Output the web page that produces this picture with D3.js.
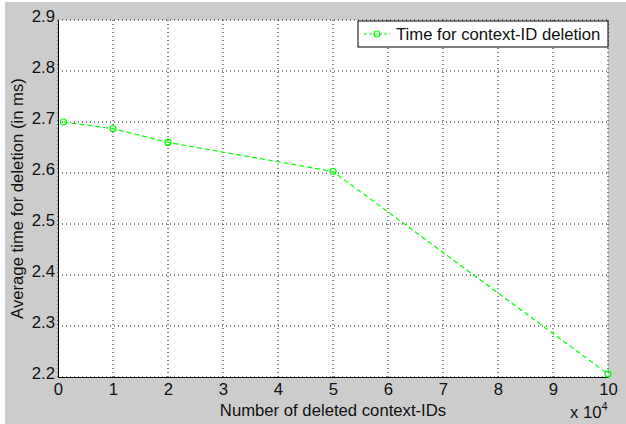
<!DOCTYPE html>
<html>
<head>
<meta charset="utf-8">
<script src="https://cdn.jsdelivr.net/npm/d3@7"></script>
<style>
  body { margin: 0; background: #fff; }
  svg { display: block; font-family: "Liberation Sans", Arial, sans-serif; }
</style>
</head>
<body>
<svg id="graph" width="626" height="424"></svg>
<script>
// data (x in units of 10^4 deleted IDs)
var deletedIds = [0.1, 1, 2, 5, 10];
var avgTime = [2.70, 2.687, 2.66, 2.603, 2.206];
var xTicks = [0, 1, 2, 3, 4, 5, 6, 7, 8, 9, 10];
var yTicks = [2.2, 2.3, 2.4, 2.5, 2.6, 2.7, 2.8, 2.9];
var seriesName = "Time for context-ID deletion";

var fs = 16.7;

var margin = { top: 20, right: 18, bottom: 47, left: 58 },
    width = 626 - margin.left - margin.right,
    height = 424 - margin.top - margin.bottom;

var svg = d3.select("#graph");

// figure background
svg.append("rect")
    .attr("x", 5).attr("y", 2)
    .attr("width", 621).attr("height", 422)
    .attr("fill", "#cccccc");

var graph = svg.append("g")
    .attr("transform", "translate(" + margin.left + "," + margin.top + ")");

var x = d3.scaleLinear().domain([0, 10]).range([0, width]),
    y = d3.scaleLinear().domain([2.2, 2.9]).range([height, 0]);

graph.append("rect")
    .attr("width", width).attr("height", height)
    .attr("fill", "#fff");

// grid lines
graph.selectAll(".vgrid")
    .data(xTicks)
    .enter().append("line")
    .attr("x1", function (d) { return x(d); })
    .attr("x2", function (d) { return x(d); })
    .attr("y1", 0).attr("y2", height)
    .attr("stroke", "#111")
    .attr("stroke-width", 1)
    .attr("stroke-dasharray", "1,3");

graph.selectAll(".hgrid")
    .data(yTicks)
    .enter().append("line")
    .attr("y1", function (d) { return y(d); })
    .attr("y2", function (d) { return y(d); })
    .attr("x1", 0).attr("x2", width)
    .attr("stroke", "#111")
    .attr("stroke-width", 1)
    .attr("stroke-dasharray", "1,3");

// axes
var xAxis = graph.append("g")
    .attr("transform", "translate(0," + height + ")")
    .call(d3.axisBottom(x).tickValues(xTicks).tickSize(0).tickPadding(5).tickFormat(d3.format("d")));
var yAxis = graph.append("g")
    .call(d3.axisLeft(y).tickValues(yTicks).tickSize(0).tickPadding(3).tickFormat(d3.format(".1f")));

[xAxis, yAxis].forEach(function (a) {
    a.select(".domain").attr("stroke", "#000");
    a.selectAll("text")
        .attr("font-family", "Liberation Sans, Arial, sans-serif")
        .attr("font-size", fs)
        .attr("fill", "#111");
});
xAxis.selectAll("text").attr("dy", "0.75em");
yAxis.selectAll("text").attr("dy", "0.1em");

// series line
var line = d3.line()
    .x(function (d) { return x(d[0]); })
    .y(function (d) { return y(d[1]); });

var points = deletedIds.map(function (d, i) { return [d, avgTime[i]]; });

graph.append("path")
    .datum(points)
    .attr("d", line)
    .attr("fill", "none")
    .attr("stroke", "#00ff00")
    .attr("stroke-width", 1.2)
    .attr("stroke-dasharray", "5,3");

graph.selectAll(".pt")
    .data(points)
    .enter().append("circle")
    .attr("cx", function (d) { return x(d[0]); })
    .attr("cy", function (d) { return y(d[1]); })
    .attr("r", 3)
    .attr("fill", "none")
    .attr("stroke", "#00ff00")
    .attr("stroke-width", 1.2);

// axis labels
graph.append("text")
    .attr("x", width / 2)
    .attr("y", height + 39)
    .attr("text-anchor", "middle")
    .attr("font-size", fs)
    .attr("fill", "#111")
    .text("Number of deleted context-IDs");

svg.append("text")
    .attr("transform", "translate(23," + (margin.top + height / 2) + ") rotate(-90)")
    .attr("text-anchor", "middle")
    .attr("font-size", fs)
    .attr("fill", "#111")
    .text("Average time for deletion (in ms)");

// exponent
var expo = svg.append("text")
    .attr("x", 570)
    .attr("y", 418)
    .attr("font-size", fs)
    .attr("fill", "#111");
expo.append("tspan").text("x 10");
expo.append("tspan").attr("dy", -8).attr("font-size", 11).text("4");

// legend
var lg = graph.append("g")
    .attr("transform", "translate(" + (width - 250) + ",1)");
lg.append("rect")
    .attr("width", 250).attr("height", 26)
    .attr("fill", "#fff")
    .attr("stroke", "#000")
    .attr("stroke-width", 1);
lg.append("line")
    .attr("x1", 6).attr("x2", 32)
    .attr("y1", 13).attr("y2", 13)
    .attr("stroke", "#00ff00")
    .attr("stroke-width", 1.2)
    .attr("stroke-dasharray", "3,2");
lg.append("circle")
    .attr("cx", 19).attr("cy", 13).attr("r", 3)
    .attr("fill", "none")
    .attr("stroke", "#00ff00")
    .attr("stroke-width", 1.2);
lg.append("text")
    .attr("x", 38).attr("y", 19)
    .attr("font-size", fs)
    .attr("fill", "#111")
    .text(seriesName);
</script>
</body>
</html>
